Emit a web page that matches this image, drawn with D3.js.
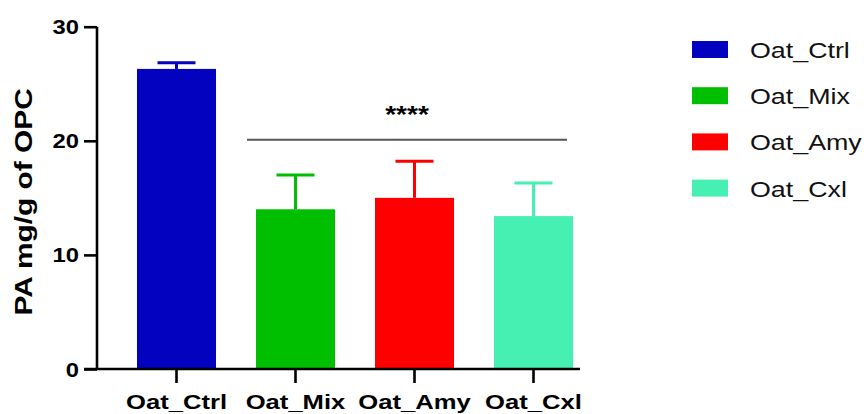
<!DOCTYPE html>
<html>
<head>
<meta charset="utf-8">
<script src="https://cdn.jsdelivr.net/npm/d3@7"></script>
<style>
  body { margin: 0; background: #fff; }
  text { font-family: "Liberation Sans", Arial, sans-serif; }
</style>
</head>
<body>
<div id="chart"></div>
<script>
// data
const groups = ['Oat_Ctrl', 'Oat_Mix', 'Oat_Amy', 'Oat_Cxl'];
const means = [26.3, 14.0, 15.0, 13.4];
const errs = [0.55, 3.0, 3.2, 2.9];
const colors = ['#0202bf', '#00be00', '#ff0000', '#46efb2'];
const yTicks = [0, 10, 20, 30];
const sigLevel = 20.1;
const sigLabel = '****';
const yTitle = 'PA mg/g of OPC';

const width = 864, height = 414;
const stretch = 1.22; // glyphs in the picture are wider than Arial

let svg = d3.select('#chart').append('svg')
    .attr('width', width)
    .attr('height', height);

let y = d3.scaleLinear().domain([0, 30]).range([369, 26.7]);
let x = d3.scaleBand().domain(groups).range([117, 593])
    .paddingInner(0.336).paddingOuter(0.168);

// bars
svg.selectAll('rect.bar')
    .data(groups)
    .enter()
    .append('rect')
    .attr('class', 'bar')
    .attr('x', d => x(d))
    .attr('width', x.bandwidth())
    .attr('y', (d, i) => y(means[i]))
    .attr('height', (d, i) => y(0) - y(means[i]))
    .attr('fill', (d, i) => colors[i]);

// error bars (upper only)
let capW = 38;
let eb = svg.selectAll('g.err')
    .data(groups)
    .enter()
    .append('g')
    .attr('class', 'err')
    .attr('stroke', (d, i) => colors[i])
    .attr('stroke-width', 3);
eb.append('line')
    .attr('x1', d => x(d) + x.bandwidth() / 2)
    .attr('x2', d => x(d) + x.bandwidth() / 2)
    .attr('y1', (d, i) => y(means[i]))
    .attr('y2', (d, i) => y(means[i] + errs[i]));
eb.append('line')
    .attr('x1', d => x(d) + x.bandwidth() / 2 - capW / 2)
    .attr('x2', d => x(d) + x.bandwidth() / 2 + capW / 2)
    .attr('y1', (d, i) => y(means[i] + errs[i]))
    .attr('y2', (d, i) => y(means[i] + errs[i]));

// y axis
let yAxis = svg.append('g')
    .attr('transform', 'translate(97,0)')
    .call(d3.axisLeft(y).tickValues(yTicks).tickSize(13).tickSizeOuter(0));
yAxis.selectAll('path, line').attr('stroke', '#000').attr('stroke-width', 2.6);
yAxis.select('.domain').attr('d', 'M0,' + y(30) + 'V' + y(0));
yAxis.selectAll('text')
    .attr('x', -18 / stretch)
    .attr('dy', '0.36em')
    .attr('transform', 'scale(' + stretch + ',1)')
    .attr('fill', '#000')
    .style('font-size', '19.5px')
    .style('font-weight', 'bold')
    .style('font-family', '"Liberation Sans", Arial, sans-serif');

// x axis
let xAxis = svg.append('g')
    .attr('transform', 'translate(0,' + y(0) + ')')
    .call(d3.axisBottom(x).tickSize(14).tickSizeOuter(0));
xAxis.selectAll('path, line').attr('stroke', '#000').attr('stroke-width', 2.6);
xAxis.select('.domain').attr('d', 'M84,0H580');
xAxis.selectAll('text')
    .attr('y', 40)
    .attr('dy', 0)
    .attr('transform', 'scale(' + stretch + ',1)')
    .attr('fill', '#000')
    .style('font-size', '21px')
    .style('font-weight', 'bold')
    .style('font-family', '"Liberation Sans", Arial, sans-serif');

// y title
svg.append('text')
    .attr('transform', 'translate(32,' + ((y(0) + y(30)) / 2 + 4) + ') rotate(-90) scale(' + stretch + ',1)')
    .attr('text-anchor', 'middle')
    .style('font-size', '24.5px')
    .style('font-weight', 'bold')
    .text(yTitle);

// significance bar
let sigX1 = x(groups[1]) - 9, sigX2 = x(groups[3]) + x.bandwidth() - 6;
svg.append('line')
    .attr('x1', sigX1).attr('x2', sigX2)
    .attr('y1', y(sigLevel)).attr('y2', y(sigLevel))
    .attr('stroke', '#555').attr('stroke-width', 2);
svg.append('text')
    .attr('transform', 'translate(' + (sigX1 + sigX2) / 2 + ',' + (y(sigLevel) - 17) + ') scale(' + stretch + ',1)')
    .attr('text-anchor', 'middle')
    .style('font-size', '23px')
    .style('font-weight', 'bold')
    .text(sigLabel);

// legend
let legend = svg.selectAll('g.legend')
    .data(groups)
    .enter()
    .append('g')
    .attr('class', 'legend')
    .attr('transform', (d, i) => 'translate(692,' + (50 + i * 46.2) + ')');
legend.append('rect')
    .attr('x', 0).attr('y', -9)
    .attr('width', 36).attr('height', 17)
    .attr('fill', (d, i) => colors[i]);
legend.append('text')
    .attr('transform', 'translate(58,8) scale(' + stretch + ',1)')
    .style('font-size', '22px')
    .attr('fill', '#111')
    .text(d => d);
</script>
</body>
</html>
